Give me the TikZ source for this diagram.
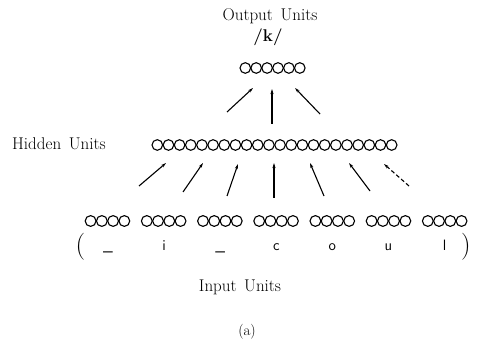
\documentclass[tikz,border=0pt]{standalone}
\usetikzlibrary{arrows.meta}
\begin{document}
\begin{tikzpicture}[x=1pt,y=1pt,
  lbl/.style={font=\fontsize{17}{20}\selectfont, inner sep=0pt, anchor=base},
  ltr/.style={font=\sffamily\fontsize{15}{18}\selectfont, inner sep=0pt, anchor=base},
  layer/.style={inner sep=0pt, minimum height=11pt},
  unitcirc/.style={line width=1.1pt},
  conn/.style={line width=1.1pt, -{Stealth[length=5pt,width=3pt]}},
  dconn/.style={conn, dash pattern=on 4pt off 2.5pt}]
\useasboundingbox (0,0) rectangle (478,342);

% texts
\node[lbl] (outlbl) at (270,321) {Output\hspace{0.45em}Units};
\node[lbl] (phon) at (268,300) {\textbf{/k/}};
\node[lbl, anchor=base west] (hidlbl) at (12,192) {Hidden\hspace{0.45em}Units};
\node[lbl] (inlbl) at (240,50) {Input\hspace{0.45em}Units};
\node[font=\fontsize{15}{18}\selectfont, inner sep=0pt, anchor=base] (cap) at (247,7) {(a)};

% output layer
\node[layer, minimum width=65pt] (outlayer) at (272.5,274) {};
\foreach \i in {0,...,5} \draw[unitcirc] (245.3+10.9*\i,274) circle[radius=5.3];

% hidden layer
\node[layer, minimum width=245pt] (hidlayer) at (274.5,197) {};
\foreach \i in {0,...,21} \draw[unitcirc] (157.3+11.16*\i,197) circle[radius=5.3];

% input layer
\foreach \g/\t in {0/\_,1/i,2/\_,3/c,4/o,5/u,6/l}{
  \node[layer, minimum width=45pt] (in\g) at (107.5+56.2*\g,121) {};
  \foreach \i in {0,...,3} \draw[unitcirc] (90.6+56.2*\g+11.25*\i,121) circle[radius=5.4];
  \node[ltr] (ch\g) at (108+56.1*\g,91) {\t};
}
\node[font=\fontsize{27}{30}\selectfont, inner sep=0pt] (lpar) at (80.5,95) {(};
\node[font=\fontsize{27}{30}\selectfont, inner sep=0pt] (rpar) at (466,95) {)};

% connectors hidden -> output
\coordinate (t1a) at (227,230); \coordinate (t1b) at (253,254);
\coordinate (t2a) at (272,218); \coordinate (t2b) at (272,253);
\coordinate (t3a) at (320,228); \coordinate (t3b) at (295,254);
\draw[conn] (t1a) -- (t1b);
\draw[conn] (t2a) -- (t2b);
\draw[conn] (t3a) -- (t3b);

% connectors input -> hidden
\coordinate (b1a) at (139,156); \coordinate (b1b) at (166,179);
\coordinate (b2a) at (183,150); \coordinate (b2b) at (203,179);
\coordinate (b3a) at (227,146); \coordinate (b3b) at (238,178);
\coordinate (b4a) at (274,144); \coordinate (b4b) at (274,179);
\coordinate (b5a) at (324,146); \coordinate (b5b) at (310,179);
\coordinate (b6a) at (370,151); \coordinate (b6b) at (349,179);
\coordinate (b7a) at (409,156); \coordinate (b7b) at (384,178);
\foreach \k in {1,...,6} \draw[conn] (b\k a) -- (b\k b);
\draw[dconn] (b7a) -- (b7b);
\end{tikzpicture}
\end{document}
